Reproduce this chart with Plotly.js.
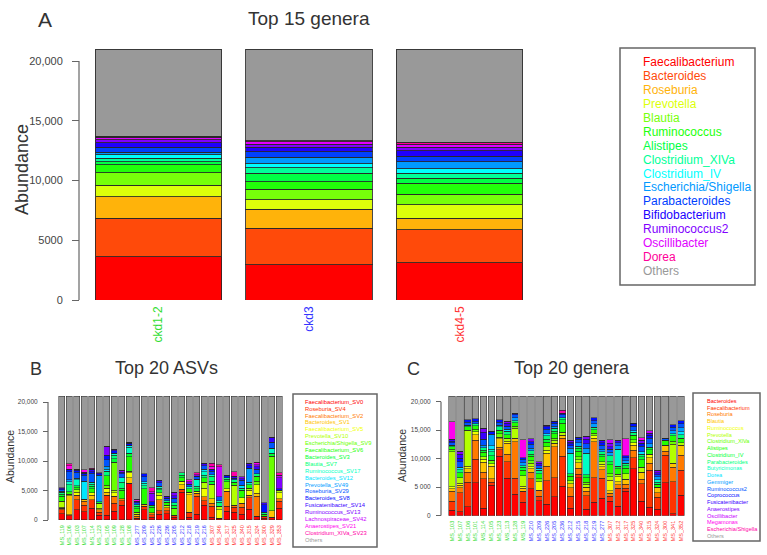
<!DOCTYPE html>
<html>
<head>
<meta charset="utf-8">
<title>Top genera / ASVs stacked abundance</title>
<script src="https://cdn.plot.ly/plotly-3.0.1.min.js"></script>
<style>
  body { margin: 0; background: #fff; }
  #chart { width: 767px; height: 555px; }
</style>
</head>
<body>
<div id="chart"></div>
<script>
// ---------- panel A: top 15 genera, pooled by CKD stage ----------
var stagesA = ['ckd1-2', 'ckd3', 'ckd4-5'];
var stageColors = ['#33dd33', '#3333ff', '#ff3333'];
var generaA = ['Faecalibacterium', 'Bacteroides', 'Roseburia', 'Prevotella', 'Blautia',
  'Ruminococcus', 'Alistipes', 'Clostridium_XIVa', 'Clostridium_IV', 'Escherichia/Shigella',
  'Parabacteroides', 'Bifidobacterium', 'Ruminococcus2', 'Oscillibacter', 'Dorea', 'Others'];
var colorsA = ['#ff0000', '#ff4a0a', '#ffb30a', '#ddff0a', '#77ff0a', '#22ff0a', '#00ff44',
  '#00ff99', '#00ffff', '#0099ff', '#0040ff', '#2000ff', '#8000ff', '#e000ff', '#ff0099', '#999999'];
// one row per genus, one value per stage
var abundA = [
  [3620, 2930, 3120], [3220, 3070, 2740], [1810, 1590, 980], [970, 780, 1110],
  [1030, 890, 920], [650, 640, 890], [250, 700, 440], [300, 470, 400],
  [300, 330, 400], [200, 540, 550], [450, 450, 500], [350, 400, 450],
  [250, 250, 300], [200, 200, 250], [100, 100, 150], [7300, 7660, 7800]
];

// ---------- panel B: top 20 ASVs per sample ----------
var samplesB = ['MS_119', 'MS_106', 'MS_103', 'MS_107', 'MS_114', 'MS_123', 'MS_105', 'MS_109', 'MS_128', 'MS_108',
  'MS_277', 'MS_209', 'MS_215', 'MS_226', 'MS_236', 'MS_205', 'MS_212', 'MS_218', 'MS_219', 'MS_216',
  'MS_307', 'MS_346', 'MS_317', 'MS_325', 'MS_340', 'MS_315', 'MS_324', 'MS_300', 'MS_329', 'MS_353'];
var groupSizesB = [10, 10, 10];
var asvNames = ['Faecalibacterium_SV0', 'Roseburia_SV4', 'Faecalibacterium_SV2', 'Bacteroides_SV1',
  'Faecalibacterium_SV5', 'Prevotella_SV10', 'Escherichia/Shigella_SV9', 'Faecalibacterium_SV6',
  'Bacteroides_SV3', 'Blautia_SV7', 'Ruminococcus_SV17', 'Bacteroides_SV12', 'Prevotella_SV49',
  'Roseburia_SV29', 'Bacteroides_SV8', 'Fusicatenibacter_SV14', 'Ruminococcus_SV13',
  'Lachnospiraceae_SV42', 'Anaerostipes_SV21', 'Clostridium_XIVa_SV23', 'Others'];
var colors20 = ['#ff0000', '#ff3300', '#ff7a00', '#ffc400', '#f2ff00', '#b3ff00', '#6aff00', '#22ff00',
  '#00ff33', '#00ff7a', '#00ffc4', '#00e5ff', '#009dff', '#0055ff', '#000dff', '#3a00ff', '#8000ff',
  '#c800ff', '#ff00ee', '#ff00a8', '#999999'];
var abundB = [
  [1100,700,1700,1400,2000,800,800,1500,2500,6200,300,1700,500,1000,1100,500,4700,500,1000,2500,500,300,1500,1300,1000,1800,600,300,500,2000],
  [600,200,1700,1100,1400,500,3400,1300,800,0,0,600,400,600,500,300,500,800,3000,800,1800,0,800,900,1200,2000,0,300,0,1200],
  [300,0,800,700,0,400,0,1200,300,0,300,0,300,1800,500,0,0,0,500,600,500,0,2600,300,600,400,3400,0,0,400],
  [0,3200,0,300,800,0,500,0,0,1000,400,400,0,0,0,0,800,3000,0,0,800,0,0,0,0,0,500,0,1100,0],
  [200,0,500,0,400,300,700,600,0,800,0,0,0,800,0,0,600,400,400,1500,0,1400,400,0,1000,800,1500,0,0,1000],
  [1000,300,400,0,0,800,0,400,0,300,300,0,0,400,400,0,0,0,0,1000,2500,600,0,3400,0,400,0,0,0,400],
  [0,0,0,0,0,0,500,4800,0,0,0,0,0,0,0,1200,0,0,0,0,0,0,1200,0,0,0,600,0,9200,0],
  [800,400,400,0,700,0,1600,0,1400,2400,600,2600,1000,0,500,0,600,600,0,800,0,0,0,500,1200,600,800,400,0,0],
  [400,0,300,0,400,300,0,600,400,600,400,0,300,500,0,500,400,0,400,0,500,0,400,0,0,0,0,0,500,0],
  [300,1200,0,0,400,0,800,600,1000,0,300,500,0,300,300,400,400,0,400,400,800,700,300,400,400,0,400,300,0,0],
  [0,500,1000,0,300,0,0,300,800,1000,0,400,0,300,0,0,0,300,1200,600,300,300,0,0,0,400,0,0,900,0],
  [200,0,300,3100,0,0,300,0,0,400,0,300,0,0,0,0,0,0,0,400,0,0,0,0,500,0,0,0,0,0],
  [0,300,0,0,0,4500,500,0,0,0,0,0,0,0,0,0,0,0,0,0,0,0,0,0,0,2400,0,0,0,0],
  [200,1400,1000,1000,1500,0,1100,0,600,0,300,800,0,600,400,800,0,500,500,600,600,600,0,300,800,0,800,0,1000,0],
  [200,400,300,300,300,200,800,400,0,300,0,500,600,0,0,0,0,0,0,0,300,0,400,0,0,400,0,1300,0,300],
  [200,0,200,0,400,200,0,300,300,0,300,0,0,400,300,400,0,0,0,400,0,0,0,300,300,400,400,300,800,0],
  [0,0,0,200,0,0,1500,0,300,200,0,0,1400,0,0,600,0,400,300,0,0,0,0,0,300,0,400,0,0,1900],
  [0,0,0,0,0,0,0,0,0,0,0,0,300,0,0,0,0,0,0,0,0,5100,0,0,0,0,0,0,0,400],
  [0,600,0,400,0,0,0,0,0,0,300,0,0,0,0,0,0,300,0,0,500,0,0,0,0,0,400,0,0,0],
  [0,300,0,0,200,0,0,0,0,0,0,0,700,0,0,0,0,0,300,0,500,400,0,800,0,0,0,0,0,400],
  [15500,11500,12400,12500,12200,13000,8500,9000,12600,7800,17500,13200,15500,14300,17000,16300,13000,14200,13000,11400,11400,11600,13400,12800,13700,11400,11200,18100,7000,13000]
];

// ---------- panel C: top 20 genera per sample ----------
var samplesC = ['MS_103', 'MS_107', 'MS_106', 'MS_101', 'MS_114', 'MS_105', 'MS_123', 'MS_113', 'MS_128', 'MS_119',
  'MS_210', 'MS_209', 'MS_226', 'MS_205', 'MS_236', 'MS_212', 'MS_215', 'MS_218', 'MS_219', 'MS_277',
  'MS_307', 'MS_312', 'MS_317', 'MS_325', 'MS_340', 'MS_315', 'MS_324', 'MS_300', 'MS_341', 'MS_352'];
var groupSizesC = [10, 10, 10];
var generaC = ['Bacteroides', 'Faecalibacterium', 'Roseburia', 'Blautia', 'Ruminococcus', 'Prevotella',
  'Clostridium_XlVa', 'Alistipes', 'Clostridium_IV', 'Parabacteroides', 'Butyricimonas', 'Dorea',
  'Gemmiger', 'Ruminococcus2', 'Coprococcus', 'Fusicatenibacter', 'Anaerostipes', 'Oscillibacter',
  'Megamonas', 'Escherichia/Shigella', 'Others'];
var abundC = [
  [1000,700,1600,5800,1300,5300,10400,6600,3800,2400,4700,2600,2000,3300,5200,1300,6700,1100,2400,3100,2500,1700,4300,8200,2500,1500,1100,5800,300,3600],
  [1500,3300,4300,4100,5200,600,1200,2900,2800,1900,1800,800,4100,3400,5200,2100,600,2400,4300,3500,900,3100,500,2000,3100,6500,2100,4800,5700,4400],
  [1800,900,1700,3300,1100,600,400,1300,6400,0,1100,1100,2600,5400,3200,1500,1000,800,6300,1500,500,600,700,1300,800,1200,800,700,2500,2600],
  [400,400,600,1000,1800,2200,1500,1900,600,500,600,0,2300,600,500,700,1000,700,600,500,500,600,900,900,1200,1000,1000,1100,700,1800],
  [400,400,500,500,500,400,300,400,0,400,400,1500,500,0,0,0,0,0,400,400,1800,800,0,400,0,600,0,0,0,0],
  [6100,1000,6300,0,400,0,0,500,1700,1800,600,0,600,500,500,500,500,500,0,500,600,500,1000,0,900,0,0,0,3300,400],
  [500,0,0,500,0,600,600,0,400,0,400,500,0,400,0,0,500,400,500,0,600,0,0,500,0,0,0,0,600,0],
  [400,800,600,600,800,0,600,600,600,1000,800,900,800,800,1600,800,1000,800,600,800,1500,900,900,800,1300,800,500,800,900,800],
  [0,0,0,0,400,800,0,0,0,500,400,0,500,400,600,500,500,500,0,500,600,500,500,0,500,400,0,0,0,0],
  [300,600,300,300,400,700,600,600,400,300,600,600,600,500,400,0,400,0,400,400,1000,0,400,500,500,0,400,0,400,600],
  [0,0,0,0,0,500,0,0,0,0,0,0,0,0,0,3600,0,3800,0,0,0,3000,0,0,0,0,400,0,0,0],
  [0,400,0,0,0,600,300,400,0,0,0,300,400,0,0,0,0,0,0,0,0,0,0,300,400,0,0,0,0,500],
  [0,0,0,0,500,2000,0,0,500,500,400,0,0,400,0,800,600,800,600,500,600,600,400,0,0,600,500,0,500,700],
  [400,1000,500,500,1000,0,500,500,500,600,700,500,800,500,500,500,600,800,600,700,600,500,600,800,1000,1000,400,400,600,700],
  [300,600,400,400,0,500,400,0,300,300,500,0,400,400,300,300,400,0,500,400,0,0,300,500,500,500,0,0,500,600],
  [300,700,0,0,1200,0,0,500,0,0,0,400,300,0,0,300,0,800,0,400,400,400,0,0,0,400,300,0,0,0],
  [0,500,0,0,700,0,0,400,0,0,500,300,0,0,0,300,0,500,0,0,600,0,0,0,500,0,500,0,0,0],
  [0,0,0,0,0,0,0,0,0,0,0,0,0,0,0,0,0,0,0,0,600,0,0,0,0,400,0,0,0,0],
  [3100,0,0,0,0,0,0,0,0,3100,0,0,0,0,0,0,0,0,0,0,0,0,3000,0,500,0,0,0,0,0],
  [0,0,0,0,0,0,0,0,0,0,0,0,0,0,500,0,0,0,0,0,0,0,0,0,0,0,0,0,0,0],
  [4500,9700,4200,4000,5700,6200,4200,4400,3000,7700,7500,11500,5100,4400,2500,7800,7200,7100,3800,7800,7700,7800,7500,4800,7300,6100,13000,7400,5000,4300]
];

var tickVals = [0, 5000, 10000, 15000, 20000];
var tickTextA = ['0', '5000', '10,000', '15,000', '20,000'];
var tickTextB = ['0', '5,000', '10,000', '15,000', '20,000'];
var tickTextC = ['0', '5 000', '10,000', '15,000', '20,000'];

// ---------- helpers ----------
var W = 767, H = 555;
function px(x) { return x / W; }
function py(y) { return 1 - y / H; }

function colored(txt, c) { return '<span style="color:' + c + '">' + txt + '</span>'; }

function groupLabels(samples, sizes) {
  var out = [], k = 0;
  sizes.forEach(function (n, g) {
    for (var i = 0; i < n; i++) { out.push(colored(samples[k], stageColors[g])); k++; }
  });
  return out;
}

var traces = [];
function addStack(rows, names, colors, nBars, xa, ya, lw) {
  var xs = [];
  for (var i = 0; i < nBars; i++) xs.push(i);
  rows.forEach(function (vals, j) {
    traces.push({
      type: 'bar', x: xs, y: vals, name: names[j],
      xaxis: xa, yaxis: ya, width: 0.84,
      marker: { color: colors[j], line: { color: 'rgba(40,40,40,0.85)', width: lw } },
      showlegend: false, hoverinfo: 'skip'
    });
  });
}

addStack(abundA, generaA, colorsA, 3, 'x', 'y', 1);
addStack(abundB, asvNames, colors20, 30, 'x2', 'y2', 0.6);
addStack(abundC, generaC, colors20, 30, 'x3', 'y3', 0.6);

var annots = [], shapes = [];
var baseFont = 'Liberation Sans, Arial, sans-serif';

function label(text, x, y, size, opts) {
  var a = { text: text, x: px(x), y: py(y), xref: 'paper', yref: 'paper', showarrow: false,
    xanchor: 'center', yanchor: 'middle',
    font: { family: baseFont, size: size, color: '#333' } };
  for (var k in opts) a[k] = opts[k];
  annots.push(a);
}

function legendBox(names, colors, x0, x1, y0, y1, tx, ty, step, size) {
  shapes.push({ type: 'rect', xref: 'paper', yref: 'paper', x0: px(x0), x1: px(x1), y0: py(y1), y1: py(y0),
    line: { color: '#666', width: 1.5 } });
  names.forEach(function (n, i) {
    annots.push({ text: n, x: px(tx), y: py(ty + i * step), xref: 'paper', yref: 'paper',
      xanchor: 'left', yanchor: 'middle', showarrow: false,
      font: { family: baseFont, size: size, color: colors[i] } });
  });
}

function axisLine(ya, x) {
  shapes.push({ type: 'line', xref: 'paper', yref: ya, x0: px(x), x1: px(x), y0: 0, y1: 20000,
    line: { color: '#666', width: 1.2 } });
}

// titles and panel letters
label('A', 45, 20, 21);
label('Top 15 genera', 309, 18, 19);
label('Abundance', 22, 170, 18, { textangle: -90 });
label('B', 36, 369, 18);
label('Top 20 ASVs', 166, 368, 18);
label('Abundance', 10, 457, 10.5, { textangle: -90 });
label('C', 413, 369, 18);
label('Top 20 genera', 572, 368, 18);
label('Abundance', 402, 455, 10.5, { textangle: -90 });

legendBox(generaA, colorsA, 620, 755, 48, 285, 641, 62.3, 13.9, 12);
legendBox(asvNames, colors20, 293, 377, 394, 547, 303, 401.7, 6.9, 5.8);
legendBox(generaC, colors20, 693, 760, 393, 541, 705, 401, 6.74, 5.6);

axisLine('y', 79);
axisLine('y2', 48);
axisLine('y3', 441);

function yAxis(bottom, pxPerK, pos, ticktext, len, size) {
  var top = bottom - 21.3 * pxPerK;
  return {
    domain: [py(bottom), py(top)], range: [0, 21300], anchor: 'free', position: px(pos),
    tickvals: tickVals, ticktext: ticktext, ticks: 'outside', ticklen: len, tickcolor: '#666',
    ticklabelstandoff: len > 6 ? 7 : 4, showline: false, showgrid: false, zeroline: false,
    tickfont: { family: baseFont, size: size, color: '#444' }, fixedrange: true
  };
}

function xAxis(x0, x1, n, ya, ticktext, size) {
  var vals = [];
  for (var i = 0; i < n; i++) vals.push(i);
  return {
    domain: [px(x0), px(x1)], range: [-0.5, n - 0.5], anchor: ya,
    tickvals: vals, ticktext: ticktext, tickangle: -90, ticks: '',
    showline: false, showgrid: false, zeroline: false, ticklabelstandoff: 3,
    tickfont: { family: baseFont, size: size }, fixedrange: true
  };
}

var layout = {
  width: W, height: H,
  margin: { l: 0, r: 0, t: 0, b: 0 },
  paper_bgcolor: '#fff', plot_bgcolor: 'rgba(0,0,0,0)',
  barmode: 'stack', bargap: 0.16,
  showlegend: false, hovermode: false,
  xaxis: xAxis(83.2, 535, 3, 'y', stagesA.map(function (s, i) { return colored(s, stageColors[i]); }), 12),
  yaxis: yAxis(300, 11.95, 79, tickTextA, 7, 11),
  xaxis2: xAxis(58, 283, 30, 'y2', groupLabels(samplesB, groupSizesB), 5.5),
  yaxis2: yAxis(520, 5.9, 48, tickTextB, 5, 6.5),
  xaxis3: xAxis(448, 685, 30, 'y3', groupLabels(samplesC, groupSizesC), 5.5),
  yaxis3: yAxis(515.7, 5.7, 441, tickTextC, 5, 6.5),
  annotations: annots,
  shapes: shapes
};

Plotly.newPlot('chart', traces, layout, { displayModeBar: false, staticPlot: true });
</script>
</body>
</html>
